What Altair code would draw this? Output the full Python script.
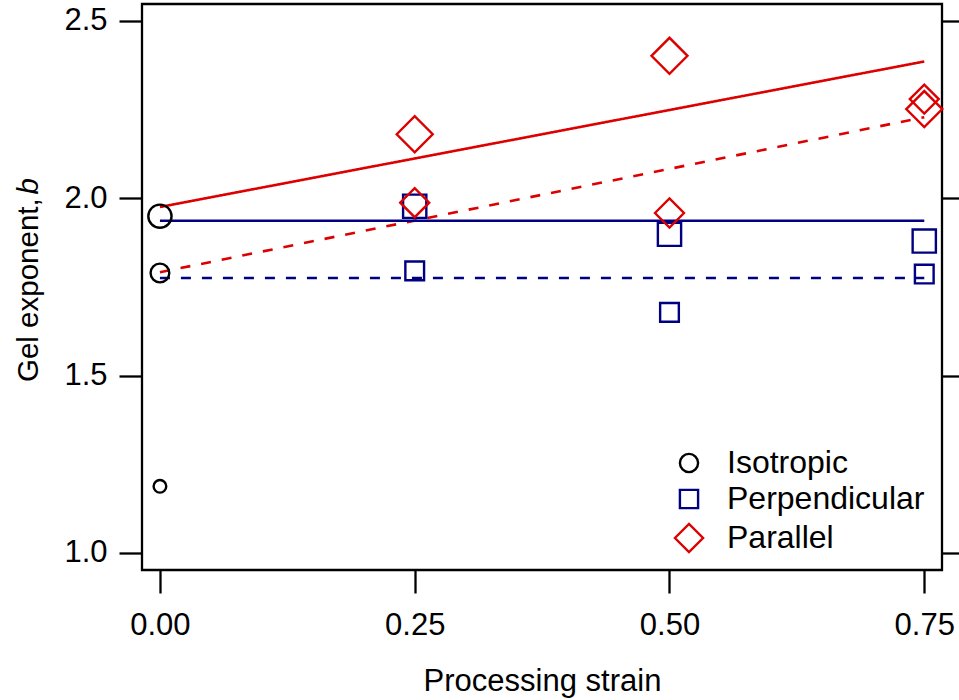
import altair as alt
import pandas as pd

FONT = "Liberation Sans"

series_names = ["Isotropic", "Perpendicular", "Parallel"]
series_colors = ["#000000", "#000080", "#DD0000"]
diamond = "M-1.55,0L0,-1.55L1.55,0L0,1.55Z"
series_shapes = ["circle", "square", diamond]

# measured points
iso_x = [0.0, 0.0, 0.0]
iso_y = [1.949, 1.789, 1.188]
iso_kind = ["large", "small", "tiny"]

perp_x = [0.25, 0.25, 0.50, 0.50, 0.75, 0.75]
perp_y = [1.977, 1.795, 1.898, 1.678, 1.879, 1.786]
perp_kind = ["large", "small", "large", "small", "large", "small"]

par_x = [0.25, 0.25, 0.50, 0.50, 0.75, 0.75]
par_y = [2.180, 1.987, 2.401, 1.958, 2.251, 2.279]
par_kind = ["large", "small", "large", "small", "large", "small"]

# linear fits (start and end values)
fit_series = ["Parallel", "Parallel", "Perpendicular", "Perpendicular"]
fit_kind = ["large", "small", "large", "small"]
fit_x_start = [0.0, 0.0, 0.0, 0.0]
fit_x_end = [0.75, 0.75, 0.75, 0.75]
fit_y_start = [1.975, 1.791, 1.936, 1.775]
fit_y_end = [2.385, 2.228, 1.936, 1.775]

x_ticks = [0.0, 0.25, 0.5, 0.75]
y_ticks = [1.0, 1.5, 2.0, 2.5]
x_domain = [-0.0176, 0.7674]
y_domain = [0.952, 2.547]

rows = []
for name, xs, ys, ks in [("Isotropic", iso_x, iso_y, iso_kind),
                         ("Perpendicular", perp_x, perp_y, perp_kind),
                         ("Parallel", par_x, par_y, par_kind)]:
    for xv, yv, kv in zip(xs, ys, ks):
        rows.append({"series": name, "x": xv, "y": yv, "kind": kv})
pts = pd.DataFrame(rows)

lrows = []
for s, k, x0, x1, y0, y1 in zip(fit_series, fit_kind, fit_x_start, fit_x_end, fit_y_start, fit_y_end):
    lrows.append({"series": s, "fit": k, "x": x0, "y": y0, "id": s + k})
    lrows.append({"series": s, "fit": k, "x": x1, "y": y1, "id": s + k})
lines = pd.DataFrame(lrows)

xscale = alt.Scale(domain=x_domain, nice=False, zero=False)
yscale = alt.Scale(domain=y_domain, nice=False, zero=False)
color = alt.Color("series:N", scale=alt.Scale(domain=series_names, range=series_colors),
                  sort=series_names,
                  legend=alt.Legend(title=None, orient="none", legendX=531, legendY=443,
                                    labelFont=FONT, labelFontSize=32, labelColor="black",
                                    labelLimit=400,
                                    symbolSize=330, symbolStrokeWidth=2.4, labelOffset=22,
                                    rowPadding=4, padding=0))
shape = alt.Shape("series:N", scale=alt.Scale(domain=series_names, range=series_shapes),
                  sort=series_names)

xaxis = alt.Axis(values=x_ticks, format=".2f", grid=False, domain=False,
                 tickSize=23, tickWidth=2.3, tickColor="black",
                 labelFont=FONT, labelFontSize=31, labelColor="black", labelPadding=17,
                 title="Processing strain", titleFont=FONT, titleFontSize=31,
                 titleFontWeight="normal", titleColor="black", titleBaseline="alphabetic",
                 titleX=400, titleY=120)
yaxis = alt.Axis(values=y_ticks, format=".1f", grid=False, domain=False,
                 tickSize=23, tickWidth=2.3, tickColor="black",
                 labelFont=FONT, labelFontSize=31, labelColor="black", labelPadding=12,
                 title=None)

line_layer = alt.Chart(lines).mark_line(strokeWidth=2.6).encode(
    x=alt.X("x:Q", scale=xscale, axis=xaxis),
    y=alt.Y("y:Q", scale=yscale, axis=yaxis),
    color=color,
    strokeDash=alt.StrokeDash("fit:N", scale=alt.Scale(domain=["large", "small"],
                                                       range=[[1, 0], [10, 11]]), legend=None),
    detail="id:N",
)

point_layer = alt.Chart(pts).mark_point(filled=False, strokeWidth=2.4, opacity=1).encode(
    x=alt.X("x:Q", scale=xscale),
    y=alt.Y("y:Q", scale=yscale),
    color=color,
    shape=shape,
    size=alt.Size("kind:N", scale=alt.Scale(domain=["large", "small", "tiny"],
                                            range=[540, 160, 9]), legend=None),
)

ytitle1 = alt.Chart(pd.DataFrame({"t": ["Gel exponent,"]})).mark_text(
    angle=270, align="left", baseline="alphabetic", font=FONT, fontSize=29.5, color="black"
).encode(x=alt.value(-104), y=alt.value(378), text="t:N")
ytitle2 = alt.Chart(pd.DataFrame({"t": ["b"]})).mark_text(
    angle=270, align="right", baseline="alphabetic", font=FONT, fontSize=29.5,
    fontStyle="italic", color="black"
).encode(x=alt.value(-104), y=alt.value(174), text="t:N")

main = alt.layer(line_layer, point_layer, ytitle1, ytitle2)

right_axis = alt.Chart(pts).mark_point(opacity=0).encode(
    x=alt.X("x:Q", scale=xscale),
    y=alt.Y("y:Q", scale=yscale,
            axis=alt.Axis(orient="right", values=y_ticks, labels=False, domain=False,
                          grid=False, tickSize=23, tickWidth=2.3, tickColor="black",
                          title=None)),
)

chart = alt.layer(main, right_axis).resolve_scale(y="independent").properties(
    width=800, height=566,
    autosize=alt.AutoSizeParams(type="none"),
    padding={"left": 142, "top": 4, "right": 17, "bottom": 130},
).configure_view(stroke="black", strokeWidth=2.3)

chart.save("out.html", embed_options={"renderer": "svg", "actions": False})
